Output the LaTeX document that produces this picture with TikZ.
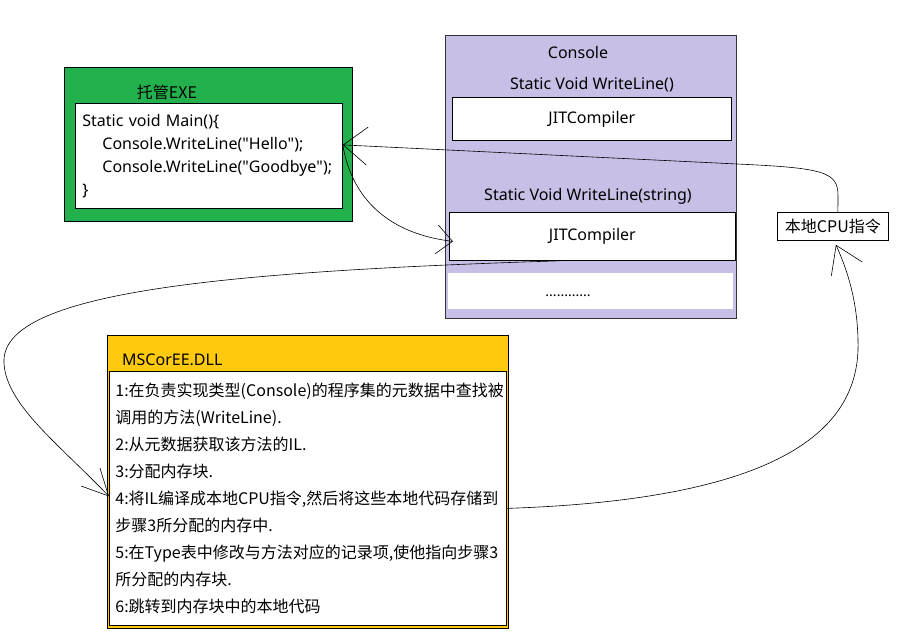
\documentclass[tikz,border=0pt]{standalone}
\usepackage{fontspec}
\setmainfont{Noto Sans}
\newfontfamily\cjk{Noto Sans CJK SC}
\usetikzlibrary{arrows.meta,positioning}
\definecolor{exegreen}{HTML}{22B14C}
\definecolor{conlilac}{HTML}{C8BFE7}
\definecolor{dllgold}{HTML}{FFC90E}

\begin{document}
\begin{tikzpicture}[
    x=1pt, y=-1pt,
    panel/.style={draw, line width=0.9pt, anchor=north west, inner sep=0pt},
    slot/.style={draw, fill=white, line width=0.8pt, anchor=north west, inner sep=0pt,
      font=\fontsize{16}{19}\selectfont},
    caption/.style={inner sep=0pt, font=\fontsize{16}{19}\selectfont},
    flow/.style={line width=0.6pt}
  ]
  \useasboundingbox (0,0) rectangle (923,644);

  \node[panel, fill=exegreen, minimum width=288, minimum height=154] (exe) at (64,67) {};
  \node[caption] (exetitle) at (167,92) {\cjk 托管EXE};
  \node[slot, minimum width=267, minimum height=105, text width=253, inner xsep=7pt, align=left,
    font=\fontsize{16}{23}\selectfont] (code) at (75,103)
    {Static void Main()\{\\
     \hspace*{20pt}Console.WriteLine(\textquotedbl Hello\textquotedbl);\\
     \hspace*{20pt}Console.WriteLine(\textquotedbl Goodbye\textquotedbl);\\
     \}};

  \node[panel, fill=conlilac, draw=black!80, minimum width=291, minimum height=283] (console) at (445,35) {};
  \node[caption] (contitle) at (578,53) {Console};
  \node[caption] (sigA) at (592,85) {Static Void WriteLine()};
  \node[slot, minimum width=279, minimum height=43] (jitA) at (452,97) {JITCompiler};
  \node[caption] (sigB) at (588,196) {Static Void WriteLine(string)};
  \node[slot, minimum width=286, minimum height=48] (jitB) at (449,212) {JITCompiler};
  \node[slot, draw=none, minimum width=285, minimum height=36] (more) at (448,273) {};
  \node[caption, font=\fontsize{14}{17}\selectfont] (dots) at (568,296) {............};

  \node[slot, minimum width=111, minimum height=28, font=\cjk\fontsize{16}{19}\selectfont] (cpu) at (777,212) {本地CPU指令};

  \node[panel, fill=dllgold, minimum width=401, minimum height=293] (dll) at (107,335) {};
  \node[caption, anchor=west] (dlltitle) at (122,360) {MSCorEE.DLL};
  \node[slot, minimum width=397, minimum height=254, text width=385, inner xsep=6pt, align=left,
    font=\cjk\fontsize{16}{27}\selectfont] (steps) at (109,371)
    {1:在负责实现类型(Console)的程序集的元数据中查找被\\
     调用的方法(WriteLine).\\
     2:从元数据获取该方法的IL.\\
     3:分配内存块.\\
     4:将IL编译成本地CPU指令,然后将这些本地代码存储到\\
     步骤3所分配的内存中.\\
     5:在Type表中修改与方法对应的记录项,使他指向步骤3\\
     所分配的内存块.\\
     6:跳转到内存块中的本地代码};

  \draw[flow, -{Straight Barb[length=24pt,width=38pt]}] ([xshift=5pt]cpu.north) -- (838,196)
    .. controls (838,172) and (825,168) .. (737,164) -- ([yshift=11pt]code.east);
  \draw[flow, -{Straight Barb[length=16pt,width=29pt]}] ([yshift=11pt]code.east)
    .. controls (352,200) and (390,234) .. ([xshift=4pt,yshift=-5pt]jitB.west);
  \draw[flow, -{Straight Barb[length=26pt,width=26pt]}] ([xshift=-32pt]jitB.south)
    .. controls (200,272) and (0,295) .. (4,363)
    .. controls (6,405) and (60,445) .. ([yshift=2pt]steps.west);
  \draw[flow, -{Straight Barb[length=26pt,width=34pt]}] ([yshift=-10pt]steps.east)
    .. controls (760,500) and (855,440) .. (858,350)
    .. controls (859,300) and (845,265) .. ([xshift=3pt,yshift=-4pt]cpu.south);
\end{tikzpicture}
\end{document}
